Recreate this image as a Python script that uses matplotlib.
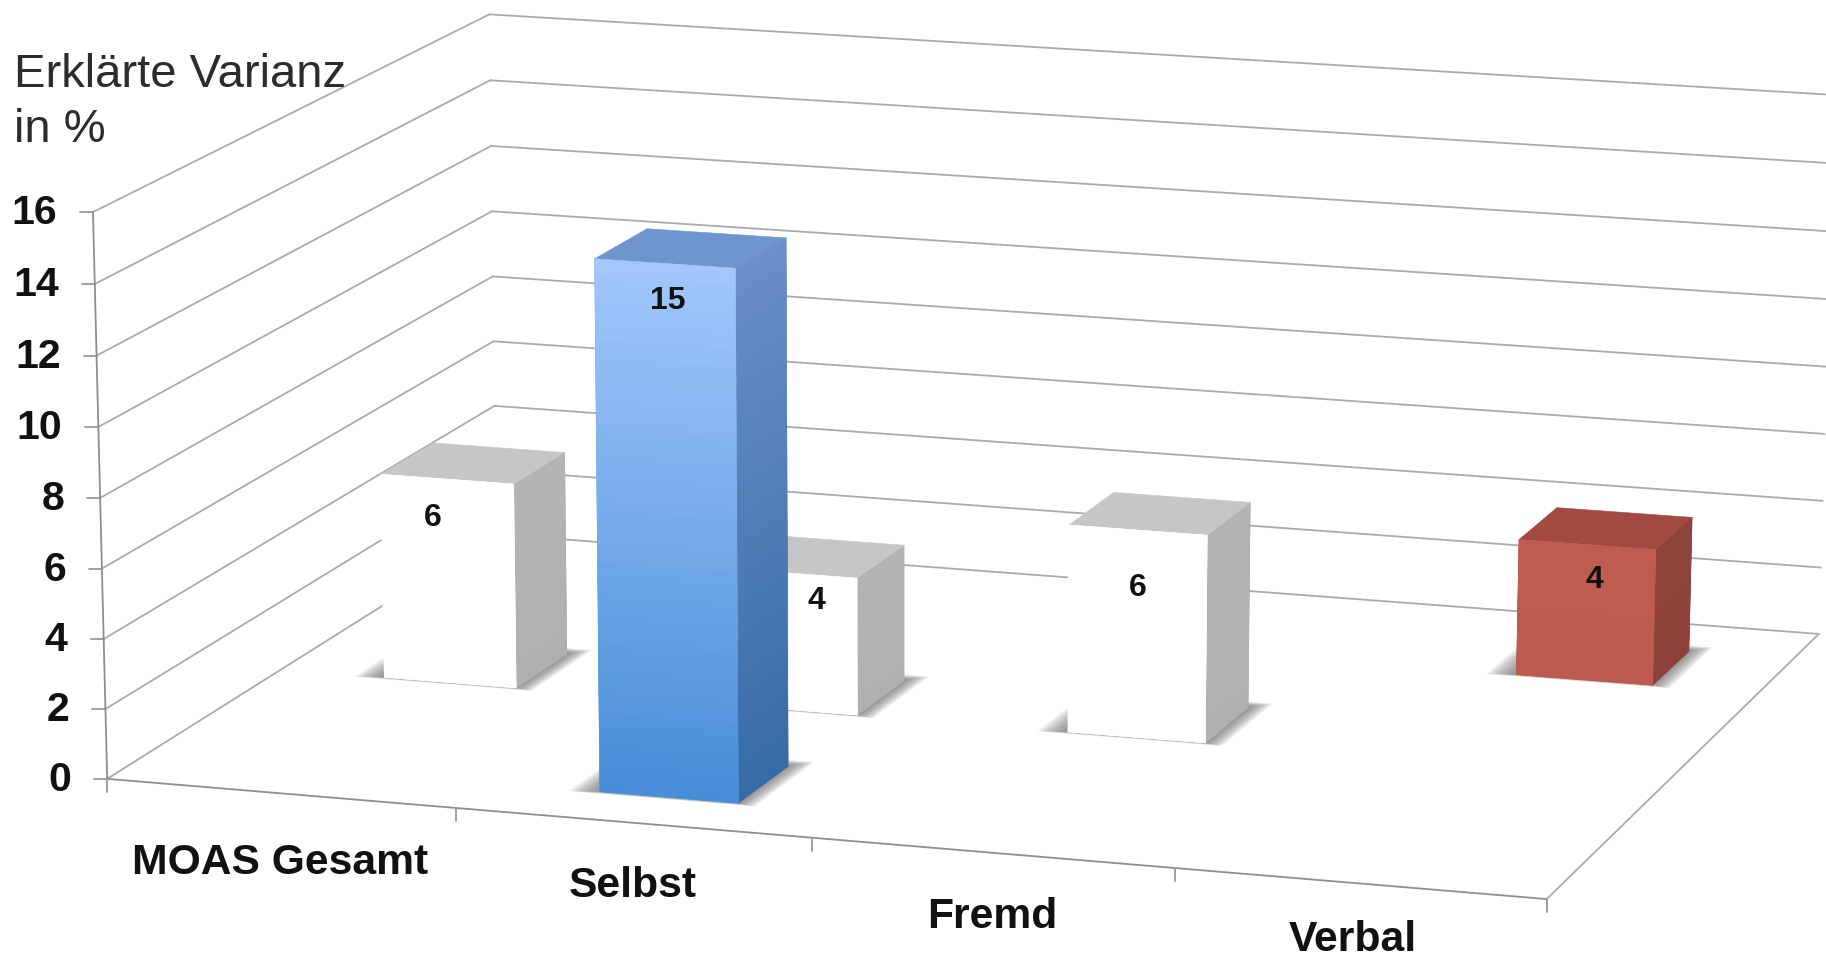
import numpy as np
import matplotlib
matplotlib.use("Agg")
import matplotlib.pyplot as plt
from matplotlib.collections import PolyCollection
from matplotlib.colors import to_rgb

# Chart data
categories = ["MOAS Gesamt", "Selbst", "Fremd", "Verbal"]
series_front = [None, 15, None, None]
series_middle = [6, 4, 6, None]
series_back = [None, None, None, 4]
value_ticks = [0, 2, 4, 6, 8, 10, 12, 14, 16]
axis_title = ["Erklärte Varianz", "in %"]

# Face colours per bar: (front at top, front at bottom, side at top, side at bottom, top)
BLUE = ("#A2C7FB", "#468DD8", "#6B8FC6", "#356BA6", "#6E95CD")
WHITE = ("#FFFFFF", "#FFFFFF", "#B4B4B4", "#B0B0B0", "#C6C6C6")
RED = ("#BF5C50", "#BE5A4E", "#8F443B", "#8C423A", "#A04A42")

series_styles = [
    (series_back, 5 / 6, [RED, RED, RED, RED]),
    (series_middle, 0.5, [WHITE, WHITE, WHITE, WHITE]),
    (series_front, 1 / 6, [BLUE, BLUE, BLUE, BLUE]),
]

# Pixel nudges of the value labels relative to the top of the front face
label_nudge = {(5 / 6, 3): (8, 36), (0.5, 0): (-14, 39), (0.5, 1): (28, 28),
               (0.5, 2): (0, 58), (1 / 6, 1): (3, 38)}
category_nudge = [(0, 70), (0, 63), (0, 64), (-7, 57)]

BAR_W, BAR_D = 0.098, 0.137
BAR_FRONT_OFFSET = 0.0725
GRID = "#ABABAB"

# Perspective camera: solve a 3x4 projection from the box corners
S = 1826 / 1568
box_corners = [((0, 0, 0), (92, 668)), ((0, 0, 16), (80, 182)), ((1, 0, 0), (1328, 773)),
               ((0, 1, 16), (420, 12)), ((0, 1, 0), (426, 460)), ((1, 1, 0), (1562, 543)),
               ((1, 1, 16), (1575, 82))]
rows = []
for (u, v, z), (x, y) in box_corners:
    x, y = x * S, y * S
    rows.append([u, v, z, 1, 0, 0, 0, 0, -x * u, -x * v, -x * z, -x])
    rows.append([0, 0, 0, 0, u, v, z, 1, -y * u, -y * v, -y * z, -y])
CAM = np.linalg.svd(np.array(rows, float))[2][-1].reshape(3, 4)


def proj(u, v, z):
    h = CAM @ np.array([u, v, z, 1.0])
    return h[:2] / h[2]


def mix(c0, c1, t):
    return tuple((1 - t) * a + t * b for a, b in zip(to_rgb(c0), to_rgb(c1)))


fig = plt.figure(figsize=(18.26, 9.61), dpi=100, facecolor="white")
ax = fig.add_axes([0, 0, 1, 1])
ax.set_xlim(0, 1826)
ax.set_ylim(961, 0)
ax.axis("off")


def line(a, b, color=GRID, lw=1.3, z=1):
    ax.plot([a[0], b[0]], [a[1], b[1]], color=color, lw=lw, zorder=z, solid_capstyle="round")


# Walls and floor
for val in value_ticks:
    a, b, c = proj(0, 0, val), proj(0, 1, val), proj(1, 1, val)
    line(a, b)
    line(b, c)
    line(a, a - np.array([13, 0]), color="#999999")
    ax.text(a[0] - 36, a[1] + 1, str(val), ha="right", va="center", fontsize=29.5,
            fontweight="bold", family="Liberation Sans", color="#111111", zorder=6)
line(proj(0, 0, 0), proj(0, 0, 16), color="#8E8E8E")
line(proj(0, 0, 0), proj(1, 0, 0), color="#8E8E8E")
line(proj(1, 0, 0), proj(1, 1, 0))

for i in range(len(categories) + 1):
    p = proj(i / len(categories), 0, 0)
    line(p, p + np.array([0, 13]), color="#999999")

for i, name in enumerate(categories):
    p = proj((i + 0.5) / len(categories), 0, 0)
    dx, dy = category_nudge[i]
    ax.text(p[0] + dx, p[1] + dy, name, ha="center", va="center", fontsize=30.7,
            fontweight="bold", family="Liberation Sans", color="#111111", zorder=6)

ax.text(14, 87, axis_title[0], fontsize=34, family="Liberation Sans", color="#2C2C2C", zorder=6)
ax.text(14, 142, axis_title[1], fontsize=34, family="Liberation Sans", color="#2C2C2C", zorder=6)


def face(pts, color, z):
    ax.add_collection(PolyCollection([pts], facecolors=[color], edgecolors=[color],
                                     linewidths=0.4, zorder=z))


def draw_bar(centre_u, centre_v, value, colors, z):
    u0, u1 = centre_u - BAR_W / 2, centre_u + BAR_W / 2
    v0 = centre_v - BAR_FRONT_OFFSET
    v1 = v0 + BAR_D

    # Soft contact shadow built from stacked, growing floor polygons
    for grow in np.arange(0.02, 0.0, -0.0015):
        pts = [proj(u0 - grow, v0 - grow * 0.4, 0), proj(u1 + grow * 0.7, v0 - grow * 0.4, 0),
               proj(u1 + grow * 0.7, v1 + grow, 0), proj(u0 - grow, v1 + grow, 0)]
        ax.add_collection(PolyCollection([pts], facecolors=[(0.4, 0.4, 0.4, 0.08)],
                                         edgecolors="none", zorder=z))

    # Solid underlay so the gradient strips leave no seams
    face([proj(u1, v0, 0), proj(u1, v1, 0), proj(u1, v1, value), proj(u1, v0, value)],
         mix(colors[2], colors[3], 0.5), z + 0.1)
    face([proj(u0, v0, 0), proj(u1, v0, 0), proj(u1, v0, value), proj(u0, v0, value)],
         mix(colors[0], colors[1], 0.5), z + 0.2)

    levels = np.linspace(0, value, 61)
    for a, b in zip(levels[:-1], levels[1:]):
        t = 1 - (a + b) / 2 / value
        face([proj(u1, v0, a), proj(u1, v1, a), proj(u1, v1, b), proj(u1, v0, b)],
             mix(colors[2], colors[3], t), z + 0.1)
        face([proj(u0, v0, a), proj(u1, v0, a), proj(u1, v0, b), proj(u0, v0, b)],
             mix(colors[0], colors[1], t), z + 0.2)
    face([proj(u0, v0, value), proj(u1, v0, value), proj(u1, v1, value), proj(u0, v1, value)],
         colors[4], z + 0.1)


# Bars from the back row to the front row
for row, (values, depth, palette) in enumerate(series_styles):
    for i, value in enumerate(values):
        if value is None:
            continue
        centre = (i + 0.5) / len(categories)
        draw_bar(centre, depth, value, palette[i], 2 + row)
        top = proj(centre, depth - BAR_FRONT_OFFSET, value)
        dx, dy = label_nudge[(depth, i)]
        ax.text(top[0] + dx, top[1] + dy, str(value), ha="center", va="center", fontsize=23,
                fontweight="bold", family="Liberation Sans", color="#111111", zorder=6)

fig.savefig("out.png", dpi=100, facecolor="white")
